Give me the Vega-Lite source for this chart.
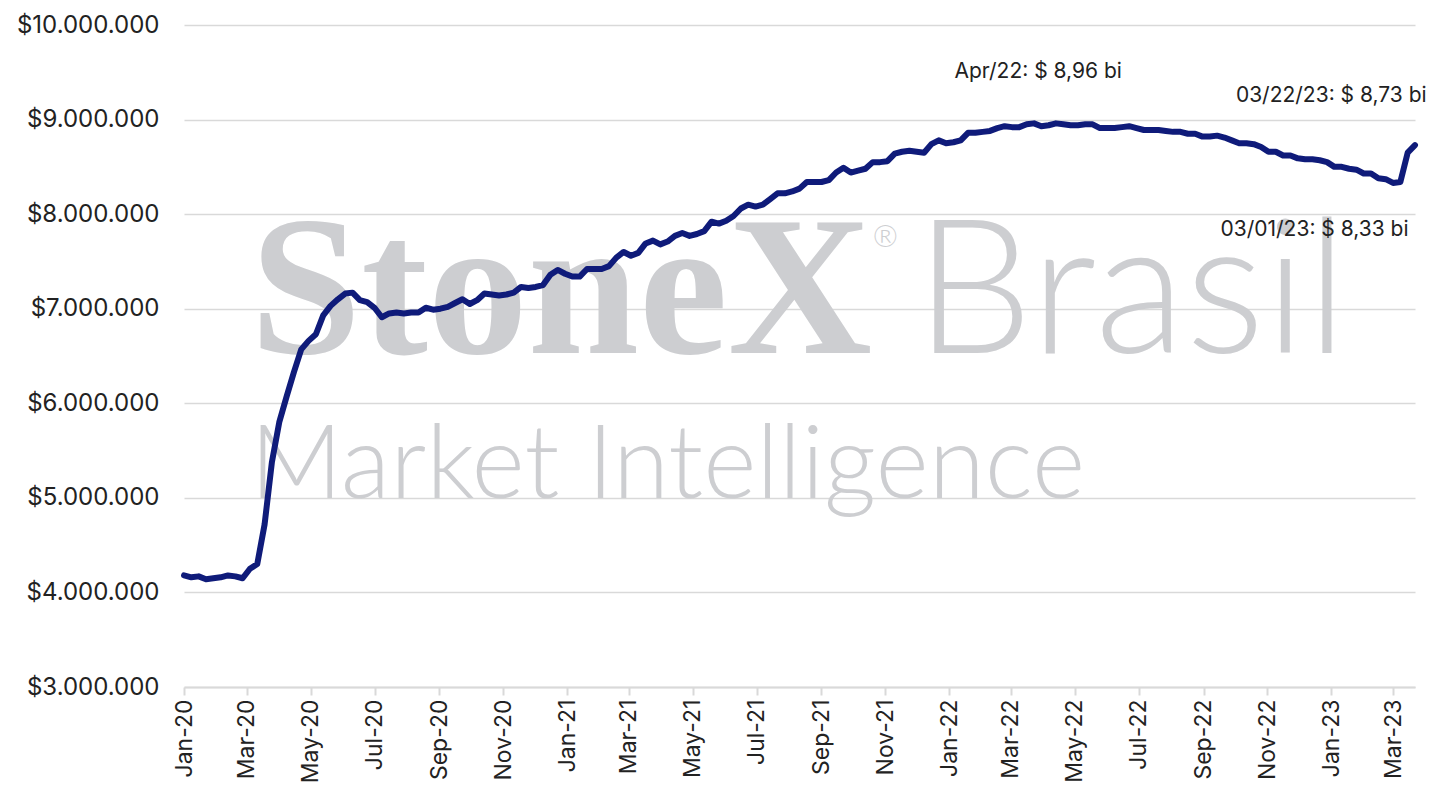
{
  "$schema": "https://vega.github.io/schema/vega-lite/v6.json",
  "width": 1231,
  "height": 662,
  "autosize": {"type": "none"},
  "padding": {"left": 184, "top": 25, "right": 23, "bottom": 121},
  "background": "white",
  "config": {
    "view": {"stroke": null},
    "font": "Inter",
    "locale": {
      "number": {"decimal": ",", "thousands": ".", "grouping": [3], "currency": ["$", ""]}
    }
  },
  "layer": [
    {
      "data": {"values": [{"t": "StoneX"}]},
      "mark": {"type": "text", "align": "left", "baseline": "alphabetic", "font": "Liberation Serif", "fontWeight": "bold", "fontSize": 200, "color": "#cdced1"},
      "encoding": {
        "x": {"datum": {"year": 2020, "month": 3, "date": 4, "utc": true}, "type": "temporal", "title": null, "scale": {"type": "utc", "domain": [{"year": 2020, "month": 1, "date": 1, "utc": true}, {"year": 2023, "month": 3, "date": 22, "utc": true}]}},
        "y": {"datum": 6533000, "type": "quantitative", "title": null, "scale": {"domain": [3000000, 10000000], "nice": false, "zero": false}},
        "text": {"field": "t"}
      }
    },
    {
      "data": {"values": [{"t": "®"}]},
      "mark": {"type": "text", "align": "center", "baseline": "middle", "font": "Lato", "fontWeight": 300, "fontSize": 30, "color": "#cdced1"},
      "encoding": {
        "x": {"datum": {"year": 2021, "month": 11, "date": 1, "utc": true}, "type": "temporal", "title": null, "scale": {"type": "utc", "domain": [{"year": 2020, "month": 1, "date": 1, "utc": true}, {"year": 2023, "month": 3, "date": 22, "utc": true}]}},
        "y": {"datum": 7748000, "type": "quantitative", "title": null, "scale": {"domain": [3000000, 10000000], "nice": false, "zero": false}},
        "text": {"field": "t"}
      }
    },
    {
      "data": {"values": [{"t": "Brasil"}]},
      "mark": {"type": "text", "align": "left", "baseline": "alphabetic", "font": "Lato", "fontWeight": 300, "fontSize": 187, "color": "#cdced1"},
      "encoding": {
        "x": {"datum": {"year": 2021, "month": 11, "date": 29, "utc": true}, "type": "temporal", "title": null, "scale": {"type": "utc", "domain": [{"year": 2020, "month": 1, "date": 1, "utc": true}, {"year": 2023, "month": 3, "date": 22, "utc": true}]}},
        "y": {"datum": 6533000, "type": "quantitative", "title": null, "scale": {"domain": [3000000, 10000000], "nice": false, "zero": false}},
        "text": {"field": "t"}
      }
    },
    {
      "data": {"values": [{"t": "Market Intelligence"}]},
      "mark": {"type": "text", "align": "left", "baseline": "alphabetic", "font": "Lato", "fontWeight": 300, "fontSize": 102, "color": "#cdced1"},
      "encoding": {
        "x": {"datum": {"year": 2020, "month": 3, "date": 4, "utc": true}, "type": "temporal", "title": null, "scale": {"type": "utc", "domain": [{"year": 2020, "month": 1, "date": 1, "utc": true}, {"year": 2023, "month": 3, "date": 22, "utc": true}]}},
        "y": {"datum": 5000000, "type": "quantitative", "title": null, "scale": {"domain": [3000000, 10000000], "nice": false, "zero": false}},
        "text": {"field": "t"}
      }
    },
    {
      "data": {
        "values": [
          {"date": "2020-01-01", "value": 4180000},
          {"date": "2020-01-08", "value": 4160000},
          {"date": "2020-01-15", "value": 4170000},
          {"date": "2020-01-22", "value": 4140000},
          {"date": "2020-01-29", "value": 4150000},
          {"date": "2020-02-05", "value": 4160000},
          {"date": "2020-02-12", "value": 4180000},
          {"date": "2020-02-19", "value": 4170000},
          {"date": "2020-02-26", "value": 4150000},
          {"date": "2020-03-04", "value": 4250000},
          {"date": "2020-03-11", "value": 4300000},
          {"date": "2020-03-18", "value": 4720000},
          {"date": "2020-03-25", "value": 5380000},
          {"date": "2020-04-01", "value": 5800000},
          {"date": "2020-04-08", "value": 6070000},
          {"date": "2020-04-15", "value": 6330000},
          {"date": "2020-04-22", "value": 6570000},
          {"date": "2020-04-29", "value": 6660000},
          {"date": "2020-05-06", "value": 6730000},
          {"date": "2020-05-13", "value": 6930000},
          {"date": "2020-05-20", "value": 7030000},
          {"date": "2020-05-27", "value": 7100000},
          {"date": "2020-06-03", "value": 7160000},
          {"date": "2020-06-10", "value": 7170000},
          {"date": "2020-06-17", "value": 7090000},
          {"date": "2020-06-24", "value": 7070000},
          {"date": "2020-07-01", "value": 7010000},
          {"date": "2020-07-08", "value": 6910000},
          {"date": "2020-07-15", "value": 6950000},
          {"date": "2020-07-22", "value": 6960000},
          {"date": "2020-07-29", "value": 6950000},
          {"date": "2020-08-05", "value": 6960000},
          {"date": "2020-08-12", "value": 6960000},
          {"date": "2020-08-19", "value": 7010000},
          {"date": "2020-08-26", "value": 6990000},
          {"date": "2020-09-02", "value": 7000000},
          {"date": "2020-09-09", "value": 7020000},
          {"date": "2020-09-16", "value": 7060000},
          {"date": "2020-09-23", "value": 7100000},
          {"date": "2020-09-30", "value": 7050000},
          {"date": "2020-10-07", "value": 7090000},
          {"date": "2020-10-14", "value": 7160000},
          {"date": "2020-10-21", "value": 7150000},
          {"date": "2020-10-28", "value": 7140000},
          {"date": "2020-11-04", "value": 7150000},
          {"date": "2020-11-11", "value": 7170000},
          {"date": "2020-11-18", "value": 7230000},
          {"date": "2020-11-25", "value": 7220000},
          {"date": "2020-12-02", "value": 7230000},
          {"date": "2020-12-09", "value": 7250000},
          {"date": "2020-12-16", "value": 7360000},
          {"date": "2020-12-23", "value": 7410000},
          {"date": "2020-12-30", "value": 7370000},
          {"date": "2021-01-06", "value": 7340000},
          {"date": "2021-01-13", "value": 7340000},
          {"date": "2021-01-20", "value": 7420000},
          {"date": "2021-01-27", "value": 7420000},
          {"date": "2021-02-03", "value": 7420000},
          {"date": "2021-02-10", "value": 7450000},
          {"date": "2021-02-17", "value": 7540000},
          {"date": "2021-02-24", "value": 7600000},
          {"date": "2021-03-03", "value": 7560000},
          {"date": "2021-03-10", "value": 7590000},
          {"date": "2021-03-17", "value": 7690000},
          {"date": "2021-03-24", "value": 7720000},
          {"date": "2021-03-31", "value": 7680000},
          {"date": "2021-04-07", "value": 7710000},
          {"date": "2021-04-14", "value": 7770000},
          {"date": "2021-04-21", "value": 7800000},
          {"date": "2021-04-28", "value": 7770000},
          {"date": "2021-05-05", "value": 7790000},
          {"date": "2021-05-12", "value": 7820000},
          {"date": "2021-05-19", "value": 7920000},
          {"date": "2021-05-26", "value": 7900000},
          {"date": "2021-06-02", "value": 7930000},
          {"date": "2021-06-09", "value": 7980000},
          {"date": "2021-06-16", "value": 8060000},
          {"date": "2021-06-23", "value": 8100000},
          {"date": "2021-06-30", "value": 8080000},
          {"date": "2021-07-07", "value": 8100000},
          {"date": "2021-07-14", "value": 8160000},
          {"date": "2021-07-21", "value": 8220000},
          {"date": "2021-07-28", "value": 8220000},
          {"date": "2021-08-04", "value": 8240000},
          {"date": "2021-08-11", "value": 8270000},
          {"date": "2021-08-18", "value": 8340000},
          {"date": "2021-08-25", "value": 8340000},
          {"date": "2021-09-01", "value": 8340000},
          {"date": "2021-09-08", "value": 8360000},
          {"date": "2021-09-15", "value": 8440000},
          {"date": "2021-09-22", "value": 8490000},
          {"date": "2021-09-29", "value": 8440000},
          {"date": "2021-10-06", "value": 8460000},
          {"date": "2021-10-13", "value": 8480000},
          {"date": "2021-10-20", "value": 8550000},
          {"date": "2021-10-27", "value": 8550000},
          {"date": "2021-11-03", "value": 8560000},
          {"date": "2021-11-10", "value": 8640000},
          {"date": "2021-11-17", "value": 8660000},
          {"date": "2021-11-24", "value": 8670000},
          {"date": "2021-12-01", "value": 8660000},
          {"date": "2021-12-08", "value": 8650000},
          {"date": "2021-12-15", "value": 8740000},
          {"date": "2021-12-22", "value": 8780000},
          {"date": "2021-12-29", "value": 8750000},
          {"date": "2022-01-05", "value": 8760000},
          {"date": "2022-01-12", "value": 8780000},
          {"date": "2022-01-19", "value": 8860000},
          {"date": "2022-01-26", "value": 8860000},
          {"date": "2022-02-02", "value": 8870000},
          {"date": "2022-02-09", "value": 8880000},
          {"date": "2022-02-16", "value": 8910000},
          {"date": "2022-02-23", "value": 8930000},
          {"date": "2022-03-02", "value": 8920000},
          {"date": "2022-03-09", "value": 8920000},
          {"date": "2022-03-16", "value": 8950000},
          {"date": "2022-03-23", "value": 8960000},
          {"date": "2022-03-30", "value": 8930000},
          {"date": "2022-04-06", "value": 8940000},
          {"date": "2022-04-13", "value": 8960000},
          {"date": "2022-04-20", "value": 8950000},
          {"date": "2022-04-27", "value": 8940000},
          {"date": "2022-05-04", "value": 8940000},
          {"date": "2022-05-11", "value": 8950000},
          {"date": "2022-05-18", "value": 8950000},
          {"date": "2022-05-25", "value": 8910000},
          {"date": "2022-06-01", "value": 8910000},
          {"date": "2022-06-08", "value": 8910000},
          {"date": "2022-06-15", "value": 8920000},
          {"date": "2022-06-22", "value": 8930000},
          {"date": "2022-06-29", "value": 8910000},
          {"date": "2022-07-06", "value": 8890000},
          {"date": "2022-07-13", "value": 8890000},
          {"date": "2022-07-20", "value": 8890000},
          {"date": "2022-07-27", "value": 8880000},
          {"date": "2022-08-03", "value": 8870000},
          {"date": "2022-08-10", "value": 8870000},
          {"date": "2022-08-17", "value": 8850000},
          {"date": "2022-08-24", "value": 8850000},
          {"date": "2022-08-31", "value": 8820000},
          {"date": "2022-09-07", "value": 8820000},
          {"date": "2022-09-14", "value": 8830000},
          {"date": "2022-09-21", "value": 8810000},
          {"date": "2022-09-28", "value": 8780000},
          {"date": "2022-10-05", "value": 8750000},
          {"date": "2022-10-12", "value": 8750000},
          {"date": "2022-10-19", "value": 8740000},
          {"date": "2022-10-26", "value": 8710000},
          {"date": "2022-11-02", "value": 8660000},
          {"date": "2022-11-09", "value": 8660000},
          {"date": "2022-11-16", "value": 8620000},
          {"date": "2022-11-23", "value": 8620000},
          {"date": "2022-11-30", "value": 8590000},
          {"date": "2022-12-07", "value": 8580000},
          {"date": "2022-12-14", "value": 8580000},
          {"date": "2022-12-21", "value": 8570000},
          {"date": "2022-12-28", "value": 8550000},
          {"date": "2023-01-04", "value": 8500000},
          {"date": "2023-01-11", "value": 8500000},
          {"date": "2023-01-18", "value": 8480000},
          {"date": "2023-01-25", "value": 8470000},
          {"date": "2023-02-01", "value": 8430000},
          {"date": "2023-02-08", "value": 8430000},
          {"date": "2023-02-15", "value": 8380000},
          {"date": "2023-02-22", "value": 8370000},
          {"date": "2023-03-01", "value": 8330000},
          {"date": "2023-03-08", "value": 8340000},
          {"date": "2023-03-15", "value": 8650000},
          {"date": "2023-03-22", "value": 8730000}
        ]
      },
      "mark": {"type": "line", "color": "#0f1b7a", "strokeWidth": 6, "strokeJoin": "round", "strokeCap": "round"},
      "encoding": {
        "x": {
          "field": "date",
          "type": "temporal",
          "title": null,
          "scale": {"type": "utc", "domain": [{"year": 2020, "month": 1, "date": 1, "utc": true}, {"year": 2023, "month": 3, "date": 22, "utc": true}]},
          "axis": {
            "format": "%b-%y",
            "labelAngle": 270,
            "tickCount": {"interval": "month", "step": 2},
            "grid": false,
            "domainColor": "#d9d9d9",
            "domainWidth": 2,
            "tickColor": "#d9d9d9",
            "tickWidth": 2,
            "tickSize": 8,
            "labelPadding": 4,
            "labelFont": "Inter",
            "labelFontSize": 23,
            "labelColor": "#222222",
            "labelFlush": false,
            "labelOverlap": false
          }
        },
        "y": {
          "field": "value",
          "type": "quantitative",
          "title": null,
          "scale": {"domain": [3000000, 10000000], "nice": false, "zero": false},
          "axis": {
            "values": [3000000, 4000000, 5000000, 6000000, 7000000, 8000000, 9000000, 10000000],
            "format": "$,.0f",
            "grid": true,
            "domain": false,
            "ticks": false,
            "tickSize": 0,
            "labelPadding": 25,
            "gridColor": "#d9d9d9",
            "gridWidth": 1.5,
            "labelFont": "Inter",
            "labelFontSize": 24,
            "labelColor": "#222222"
          }
        }
      }
    },
    {
      "data": {"values": [{"t": "Apr/22: $ 8,96 bi"}]},
      "mark": {"type": "text", "align": "center", "baseline": "middle", "font": "Inter", "fontSize": 21, "color": "#222222"},
      "encoding": {
        "x": {"datum": {"year": 2022, "month": 3, "date": 27, "utc": true}, "type": "temporal", "title": null, "scale": {"type": "utc", "domain": [{"year": 2020, "month": 1, "date": 1, "utc": true}, {"year": 2023, "month": 3, "date": 22, "utc": true}]}},
        "y": {"datum": 9498000, "type": "quantitative", "title": null, "scale": {"domain": [3000000, 10000000], "nice": false, "zero": false}},
        "text": {"field": "t"}
      }
    },
    {
      "data": {"values": [{"t": "03/22/23: $ 8,73 bi"}]},
      "mark": {"type": "text", "align": "center", "baseline": "middle", "font": "Inter", "fontSize": 21, "color": "#222222"},
      "encoding": {
        "x": {"datum": {"year": 2023, "month": 1, "date": 1, "utc": true}, "type": "temporal", "title": null, "scale": {"type": "utc", "domain": [{"year": 2020, "month": 1, "date": 1, "utc": true}, {"year": 2023, "month": 3, "date": 22, "utc": true}]}},
        "y": {"datum": 9249000, "type": "quantitative", "title": null, "scale": {"domain": [3000000, 10000000], "nice": false, "zero": false}},
        "text": {"field": "t"}
      }
    },
    {
      "data": {"values": [{"t": "03/01/23: $ 8,33 bi"}]},
      "mark": {"type": "text", "align": "center", "baseline": "middle", "font": "Inter", "fontSize": 21, "color": "#222222"},
      "encoding": {
        "x": {"datum": {"year": 2022, "month": 12, "date": 16, "utc": true}, "type": "temporal", "title": null, "scale": {"type": "utc", "domain": [{"year": 2020, "month": 1, "date": 1, "utc": true}, {"year": 2023, "month": 3, "date": 22, "utc": true}]}},
        "y": {"datum": 7833000, "type": "quantitative", "title": null, "scale": {"domain": [3000000, 10000000], "nice": false, "zero": false}},
        "text": {"field": "t"}
      }
    }
  ]
}
